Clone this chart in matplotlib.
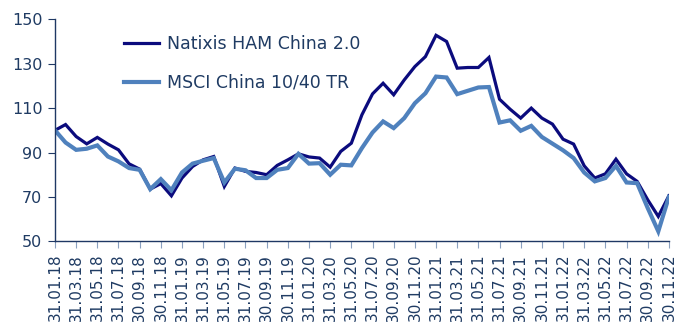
import numpy as np
import pandas as pd
import matplotlib
matplotlib.use('Agg')
import matplotlib.pyplot as plt

plt.rcParams['font.family'] = 'DejaVu Sans'

# 月末データ (2018/01 - 2022/11)
dates = pd.date_range('2018-01-31', periods=59, freq='ME')

natixis = [100, 102.6, 97.2, 93.9, 96.8, 93.8, 91.2, 84.9, 82.5, 73.5,
           76.0, 70.5, 78.5, 83.7, 86.7, 88.2, 74.7, 83.0, 81.5, 81.0,
           80.0, 84.2, 86.7, 89.4, 88.0, 87.5, 83.4, 90.5, 94.2, 107.0,
           116.4, 121.2, 116.0, 122.7, 128.7, 133.2, 142.8, 140.0, 128.0, 128.3,
           128.3, 132.8, 114.0, 109.5, 105.5, 110.0, 105.5, 102.8, 96.0, 93.8,
           84.0, 78.5, 80.4, 87.0, 80.4, 77.0, 68.7, 61.2, 70.5]

msci = [100, 94.5, 91.2, 91.7, 93.2, 88.2, 86.0, 83.0, 82.2, 73.5,
        78.0, 73.0, 81.0, 85.0, 86.3, 87.5, 76.5, 82.7, 82.0, 78.5,
        78.5, 82.2, 83.0, 89.4, 85.0, 85.2, 80.0, 84.5, 84.2, 92.0,
        99.0, 104.0, 101.0, 105.5, 112.2, 116.7, 124.2, 123.8, 116.3, 117.8,
        119.3, 119.5, 103.5, 104.5, 99.8, 102.0, 97.0, 94.0, 91.0, 87.5,
        81.0, 77.0, 78.5, 84.0, 76.5, 76.2, 65.0, 54.5, 70.0]

tick_labels = [d.strftime('%d.%m.%y') for d in dates[::2]]

text_col = '#1f3b63'
axis_col = '#1f3864'

fig = plt.figure(figsize=(6.77, 3.22), dpi=100)
ax = fig.add_axes([0.0812, 0.2506, 0.9068, 0.6894])

x = np.arange(len(dates))
ax.plot(x, natixis, color='#0b0b7d', lw=2.3, label='Natixis HAM China 2.0', solid_joinstyle='miter')
ax.plot(x, msci, color='#4f81bd', lw=3.0, label='MSCI China 10/40 TR', solid_joinstyle='miter')

ax.set_xlim(0, len(dates) - 1)
ax.set_ylim(50, 150)
ax.set_yticks(np.arange(50, 151, 20))
ax.set_xticks(x[::2])
ax.set_xticklabels(tick_labels, rotation=90, fontsize=11, color=text_col)
ax.tick_params(axis='y', labelsize=11.5, labelcolor=text_col, color=axis_col, length=5, width=0.8, pad=4)
ax.tick_params(axis='x', color='#8aa0bf', length=5, width=0.8, pad=4)

for s in ['top', 'right']:
    ax.spines[s].set_visible(False)
for s in ['left', 'bottom']:
    ax.spines[s].set_color(axis_col)
    ax.spines[s].set_linewidth(1.0)

leg = ax.legend(loc='upper left', bbox_to_anchor=(0.087, 1.0), frameon=False,
                fontsize=12.5, handlelength=2.0, labelspacing=1.2, handletextpad=0.5)
for t in leg.get_texts():
    t.set_color(text_col)

fig.savefig('out.png', dpi=100)
